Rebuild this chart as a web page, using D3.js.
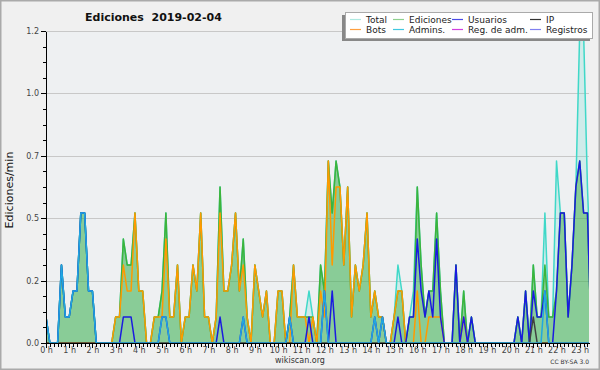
<!doctype html>
<html>
<head>
<meta charset="utf-8">
<title>Ediciones 2019-02-04</title>
<style>
  body { margin: 0; background: #f0f0f0; }
  svg { display: block; font-family: "DejaVu Sans", sans-serif; }
  .grid line { stroke: #c8c8c8; stroke-width: 1; shape-rendering: crispEdges; }
  .axis path, .axis line { stroke: #000; shape-rendering: crispEdges; }
  .axis text { fill: #444; font-size: 8px; font-family: "DejaVu Sans", sans-serif; }
  .series { fill: none; stroke-width: 1.5; stroke-linejoin: round; }
</style>
</head>
<body>
<div id="chart"></div>
<script src="https://d3js.org/d3.v7.min.js"></script>
<script>
// values are edits per minute, one per 10-minute bin starting at 0:00
var total = [
  .1,0,0,0,.3,.1,.1,.2,.2,.5,  .5,.2,.2,0,0,0,0,0,.1,.1,
  .4,.3,.3,.5,.2,.2,0,0,.1,.1, .2,.5,.1,.1,.3,0,.1,.1,.3,.2,
  .5,.1,.1,0,.1,.6,.2,.2,.3,.5, .2,.4,.1,0,.3,.2,.1,.2,0,0,
  .2,.2,0,.1,.3,.1,.1,.1,.2,.1, 0,.3,.2,.7,.5,.7,.6,.3,.6,.1,
  .3,.2,.3,.5,.1,.2,.1,.1,0,0,  .1,.3,.2,0,.1,.2,.6,.3,.1,.2,
  .2,.5,.2,0,0,0,.3,0,.2,0,     .1,0,0,0,0,0,0,0,0,0,
  0,0,.1,0,.2,0,.3,.1,.1,.5,    .1,.1,.7,.5,.5,.1,.3,.6,1.2,1.2,
  .6,.2
];
var ediciones = [
  .1,0,0,0,.3,.1,.1,.2,.2,.5,  .5,.2,.2,0,0,0,0,0,.1,.1,
  .4,.3,.3,.5,.2,.2,0,0,.1,.1, .2,.5,.1,.1,.3,0,.1,.1,.3,.2,
  .5,.1,.1,0,.1,.6,.2,.2,.3,.5, .2,.4,.1,0,.3,.2,.1,.2,0,0,
  .2,.2,0,.1,.3,.1,.1,.1,.1,.1, 0,.3,.2,.7,.5,.7,.6,.3,.6,.1,
  .3,.2,.3,.5,.1,.2,.1,.1,0,0,  .1,.2,.2,0,.1,.1,.6,.3,.1,.2,
  .2,.5,.2,0,0,0,.3,0,.2,0,     .1,0,0,0,0,0,0,0,0,0,
  0,0,.1,0,.2,0,.3,.1,.1,.3,    .1,.1,.2,.5,.5,.1,.3,.6,.7,.5,
  .5,0
];
var usuarios = [
  .1,0,0,0,.3,.1,.1,.2,.2,.5,  .5,.2,.2,0,0,0,0,0,0,0,
  .1,.1,.1,0,0,0,0,0,0,0,      .1,.1,0,0,0,0,0,0,0,0,
  0,0,0,0,0,.1,0,0,0,0,        0,.1,0,0,0,0,0,0,0,0,
  0,0,0,.1,0,0,0,0,.1,0,       0,0,.2,0,.2,0,0,0,0,0,
  0,0,0,0,0,.1,0,.1,0,0,       0,.1,0,0,.1,.1,.4,.2,.1,.2,
  .1,.4,.1,0,0,0,.3,0,.1,0,    .1,0,0,0,0,0,0,0,0,0,
  0,0,.1,0,.2,0,.2,.1,.1,.2,   0,0,.2,.5,.5,.1,.3,.6,.7,.5,
  .5,0
];
var ip = [
  0,0,0,0,0,0,0,0,0,0, 0,0,0,0,0,0,0,0,0,0,
  0,0,0,0,0,0,0,0,0,0, 0,0,0,0,0,0,0,0,0,0,
  0,0,0,0,0,0,0,0,0,0, 0,0,0,0,0,0,0,0,0,0,
  0,0,0,0,0,0,0,0,0,0, 0,0,0,0,0,0,0,0,0,0,
  0,0,0,0,0,0,0,0,0,0, 0,0,0,0,0,0,0,0,0,0,
  0,0,0,0,0,0,0,0,0,0, 0,0,0,0,0,0,0,0,0,0,
  0,0,0,0,0,0,.1,0,0,0, 0,0,0,0,0,0,0,0,0,0,
  0,0
];
var bots = [
  0,0,0,0,0,0,0,0,0,0,         0,0,0,0,0,0,0,0,.1,.1,
  .3,.2,.2,.5,.2,.2,0,0,.1,.1, .1,.4,.1,.1,.3,0,.1,.1,.3,.2,
  .5,.1,.1,0,.1,.5,.2,.2,.3,.5, .2,.3,.1,0,.3,.2,.1,.2,0,0,
  .2,.2,0,0,.3,.1,.1,.1,0,.1,  0,.2,.1,.7,.3,.6,.6,.3,.6,.1,
  .3,.2,.3,.5,.1,.2,.1,.1,0,0, .1,.2,.2,0,0,0,.2,0,0,.1,
  .1,.1,.1,0,0,0,0,0,.1,0,     0,0,0,0,0,0,0,0,0,0,
  0,0,0,0,0,0,0,0,0,0,         0,0,0,0,0,0,0,0,0,0,
  0,0
];
var admins = [
  .1,0,0,0,.3,.1,.1,.2,.2,.5,  .5,.2,.2,0,0,0,0,0,0,0,
  0,0,0,0,0,0,0,0,0,0,         .1,.1,0,0,0,0,0,0,0,0,
  0,0,0,0,0,0,0,0,0,0,         0,.1,0,0,0,0,0,0,0,0,
  0,0,0,.1,0,0,0,0,0,0,        0,0,.2,0,0,0,0,0,0,0,
  0,0,0,0,0,.1,0,.1,0,0,       0,0,0,0,0,0,0,0,0,0,
  0,0,0,0,0,0,0,0,0,0,         0,0,0,0,0,0,0,0,0,0,
  0,0,0,0,0,0,0,0,0,.2,        0,0,0,0,0,0,0,0,0,0,
  0,0
];

var legendLabels = ["Total", "Ediciones", "Usuarios", "IP", "Bots", "Admins.", "Reg. de adm.", "Registros"];
var legendColors = ["#aee9e1", "#8fd08f", "#4a4ae6", "#333333", "#ffa040", "#40c8e0", "#d040e0", "#8080f0"];
var hourTicks = d3.range(0, 24);
var yTicks = [0, 0.24, 0.48, 0.72, 0.96, 1.2];

var svg_width = 600, svg_height = 370;
var plot_left = 46, plot_right = 589, plot_top = 31, plot_bottom = 343;

var svg = d3.select("#chart").append("svg")
    .attr("width", svg_width)
    .attr("height", svg_height);

svg.append("rect")
    .attr("x", 0.5).attr("y", 0.5)
    .attr("width", svg_width - 1).attr("height", svg_height - 1)
    .attr("fill", "#f0f0f0")
    .attr("stroke", "#aaaaaa").attr("stroke-width", 2);

var x = d3.scaleLinear().domain([0, 23.4]).range([plot_left, plot_right]);
var y = d3.scaleLinear().domain([0, 1.2]).range([plot_bottom, plot_top]);

svg.append("rect")
    .attr("x", plot_left).attr("y", plot_top)
    .attr("width", plot_right - plot_left).attr("height", plot_bottom - plot_top)
    .attr("fill", "#eef0f2");

svg.append("clipPath").attr("id", "plot-clip")
  .append("rect")
    .attr("x", plot_left).attr("y", 0)
    .attr("width", plot_right - plot_left).attr("height", plot_bottom);

// grid
svg.append("g").attr("class", "grid")
  .selectAll("line")
  .data(yTicks.slice(1))
  .enter().append("line")
    .attr("x1", plot_left).attr("x2", plot_right)
    .attr("y1", function(d) { return Math.round(y(d)) + 0.5; })
    .attr("y2", function(d) { return Math.round(y(d)) + 0.5; });

function hour(d, i) { return x(i / 6); }

var plot = svg.append("g").attr("clip-path", "url(#plot-clip)");

function area(data, fill) {
    plot.append("path")
        .datum(data)
        .attr("fill", fill)
        .attr("d", d3.area().x(hour).y0(plot_bottom).y1(function(d) { return y(d); }));
}

function line(data, color, width) {
    plot.append("path")
        .datum(data)
        .attr("class", "series")
        .attr("stroke", color)
        .attr("stroke-width", width)
        .attr("d", d3.line().x(hour).y(function(d) { return y(d); }));
}

area(total, "rgba(64,216,200,0.18)");
line(total, "#3fd8c8", 1.3);
area(ediciones, "rgba(60,170,60,0.48)");
line(ediciones, "#3cb43c", 1.5);
line(bots, "#ff9a00", 1.5);
line(usuarios, "#1a1ae0", 1.3);
line(ip, "#404040", 1.3);
line(admins, "#20a8e0", 1.3);

// y axis
svg.append("g").attr("class", "axis")
    .attr("transform", "translate(" + plot_left + ",0)")
    .call(d3.axisLeft(y).tickValues(d3.range(0, 1.21, 0.06)).tickSize(3).tickSizeOuter(0).tickFormat(""));
svg.append("g").attr("class", "axis")
    .attr("transform", "translate(" + plot_left + ",0)")
    .call(d3.axisLeft(y).tickValues(yTicks).tickSize(5).tickPadding(2).tickSizeOuter(0).tickFormat(d3.format(".1f")))
  .select(".domain").remove();

// x axis
svg.append("g").attr("class", "axis")
    .attr("transform", "translate(0," + plot_bottom + ")")
    .call(d3.axisBottom(x).tickValues(d3.range(0, 141).map(function(i) { return i / 6; })).tickSize(4).tickSizeOuter(0).tickFormat(""));
var xa = svg.append("g").attr("class", "axis")
    .attr("transform", "translate(0," + plot_bottom + ")")
    .call(d3.axisBottom(x).tickValues(hourTicks).tickSize(5).tickSizeOuter(0).tickFormat(function(d) { return d + " h"; }));
xa.select(".domain").remove();
xa.selectAll("text").attr("y", 4).attr("dy", "0.71em").attr("fill", "#222");
svg.selectAll(".axis .domain").attr("stroke-width", 1.5);

// texts
svg.append("text")
    .attr("x", 85).attr("y", 21)
    .attr("font-size", 11).attr("font-weight", "bold").attr("fill", "#111")
    .style("white-space", "pre")
    .text("Ediciones  2019-02-04");

svg.append("text")
    .attr("transform", "translate(13,190) rotate(-90)")
    .attr("text-anchor", "middle")
    .attr("font-size", 11).attr("fill", "#111")
    .text("Ediciones/min");

svg.append("text")
    .attr("x", 300).attr("y", 363)
    .attr("text-anchor", "middle")
    .attr("font-size", 8).attr("fill", "#333")
    .text("wikiscan.org");

svg.append("text")
    .attr("x", 589).attr("y", 364)
    .attr("text-anchor", "end")
    .attr("font-size", 6).attr("fill", "#333")
    .text("CC BY-SA 3.0");

// legend
var lg = svg.append("g");
lg.append("rect")
    .attr("x", 342).attr("y", 15).attr("width", 248).attr("height", 26)
    .attr("fill", "#888");
lg.append("rect")
    .attr("x", 345.5).attr("y", 12.5).attr("width", 247).attr("height", 26)
    .attr("fill", "#ffffff").attr("stroke", "#aaaaaa");

var colX = [350, 393, 452, 530];
var item = lg.selectAll("g.item")
    .data(legendLabels)
  .enter().append("g")
    .attr("class", "item")
    .attr("transform", function(d, i) {
        return "translate(" + colX[i % 4] + "," + (i < 4 ? 19.5 : 29.5) + ")";
    });
item.append("line")
    .attr("x1", 0).attr("x2", 11)
    .attr("stroke", function(d, i) { return legendColors[i]; })
    .attr("stroke-width", 1.2);
item.append("text")
    .attr("x", 16).attr("y", 3)
    .attr("font-size", 9).attr("fill", "#222")
    .text(function(d) { return d; });
</script>
</body>
</html>
